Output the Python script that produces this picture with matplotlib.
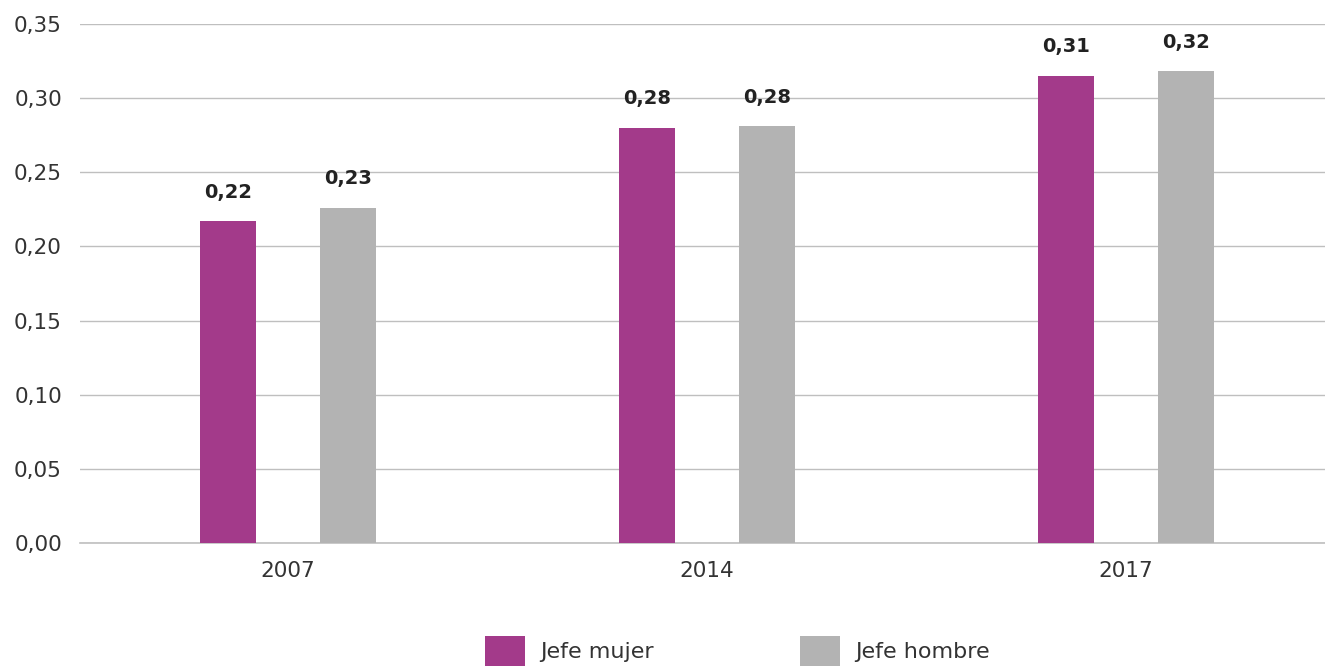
import matplotlib
matplotlib.use("Agg")
import matplotlib.pyplot as plt
import numpy as np

years = ["2007", "2014", "2017"]
jefe_mujer = [0.217, 0.280, 0.315]
jefe_hombre = [0.226, 0.281, 0.318]
labels_mujer = ["0,22", "0,28", "0,31"]
labels_hombre = ["0,23", "0,28", "0,32"]
yticks = [0.00, 0.05, 0.10, 0.15, 0.20, 0.25, 0.30, 0.35]

purple = "#A33A8A"
gray = "#B3B3B3"
txt = "#333333"

plt.rcParams['font.family'] = ['DejaVu Sans']
fig = plt.figure(figsize=(13.25, 6.71), dpi=100)
ax = fig.add_axes([80/1325, 1-543/671, 1245/1325, (543-24)/671])

x = np.arange(len(years))
w = 0.134
off = 0.143
b1 = ax.bar(x - off, jefe_mujer, w, color=purple, label="Jefe mujer", zorder=3)
b2 = ax.bar(x + off, jefe_hombre, w, color=gray, label="Jefe hombre", zorder=3)

for bars, labs in ((b1, labels_mujer), (b2, labels_hombre)):
    for r, l in zip(bars, labs):
        ax.annotate(l, (r.get_x() + r.get_width()/2, r.get_height()),
                    xytext=(0, 14), textcoords="offset points",
                    ha="center", va="bottom", fontsize=14, fontweight="bold",
                    color="#222222")

ax.set_xlim(-0.496, 2.475)
ax.set_ylim(0, 0.35)
ax.set_yticks(yticks)
ax.set_yticklabels([f"{v:.2f}".replace(".", ",") for v in yticks])
ax.set_xticks(x)
ax.set_xticklabels(years)
ax.tick_params(axis="both", length=0, labelsize=15.5, colors=txt)
ax.tick_params(axis="y", pad=13)
ax.tick_params(axis="x", pad=13)
ax.grid(axis="y", color="#BFBFBF", linewidth=1, zorder=0)
for s in ("left", "right", "top"):
    ax.spines[s].set_visible(False)
ax.spines["bottom"].set_color("#BFBFBF")
ax.spines["bottom"].set_linewidth(1.2)

leg = fig.legend(handles=[b1, b2], loc="center", bbox_to_anchor=(0.5565, 0.03),
                 ncol=2, frameon=False, fontsize=16, handlelength=1.8,
                 handleheight=1.75, handletextpad=0.68, columnspacing=6.6,
                 labelcolor=txt, borderpad=0)

fig.savefig("out.png", dpi=100)
